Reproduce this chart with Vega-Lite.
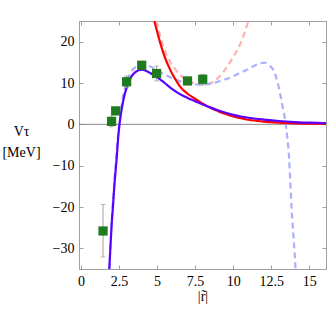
{
  "$schema": "https://vega.github.io/schema/vega-lite/v6.json",
  "width": 247,
  "height": 248,
  "autosize": "none",
  "padding": {"left": 79, "top": 21, "right": 1, "bottom": 58},
  "background": "white",
  "config": {
    "view": {"stroke": "#a0a0a0", "strokeWidth": 1},
    "axis": {
      "grid": false,
      "domainColor": "#a0a0a0",
      "tickColor": "#a0a0a0",
      "labelFont": "Liberation Serif, Times New Roman, serif",
      "labelFontSize": 14,
      "labelColor": "black",
      "titleFont": "Liberation Serif, Times New Roman, serif",
      "titleFontSize": 14,
      "titleFontWeight": "normal",
      "titleColor": "black"
    }
  },
  "datasets": {
    "dashed": [
      {"x": 4.97, "y": 25, "s": "pink"},
      {"x": 5.3, "y": 20, "s": "pink"},
      {"x": 5.6, "y": 17, "s": "pink"},
      {"x": 5.85, "y": 15.1, "s": "pink"},
      {"x": 6.2, "y": 13.3, "s": "pink"},
      {"x": 6.5, "y": 11.9, "s": "pink"},
      {"x": 7.0, "y": 10.6, "s": "pink"},
      {"x": 7.5, "y": 9.9, "s": "pink"},
      {"x": 8.0, "y": 9.6, "s": "pink"},
      {"x": 8.5, "y": 9.9, "s": "pink"},
      {"x": 9.0, "y": 11.2, "s": "pink"},
      {"x": 9.5, "y": 13.4, "s": "pink"},
      {"x": 10.0, "y": 16.3, "s": "pink"},
      {"x": 10.5, "y": 19.7, "s": "pink"},
      {"x": 11.0, "y": 25, "s": "pink"},
      {"x": 1.87, "y": -35, "s": "lightblue"},
      {"x": 2.0, "y": -24.5, "s": "lightblue"},
      {"x": 2.2, "y": -13.5, "s": "lightblue"},
      {"x": 2.4, "y": -4, "s": "lightblue"},
      {"x": 2.55, "y": 1, "s": "lightblue"},
      {"x": 2.7, "y": 5.5, "s": "lightblue"},
      {"x": 2.9, "y": 9, "s": "lightblue"},
      {"x": 3.1, "y": 11.2, "s": "lightblue"},
      {"x": 3.4, "y": 13.2, "s": "lightblue"},
      {"x": 3.7, "y": 14.1, "s": "lightblue"},
      {"x": 4.0, "y": 14.5, "s": "lightblue"},
      {"x": 4.4, "y": 14.3, "s": "lightblue"},
      {"x": 4.8, "y": 13.5, "s": "lightblue"},
      {"x": 5.3, "y": 12.4, "s": "lightblue"},
      {"x": 5.8, "y": 11.5, "s": "lightblue"},
      {"x": 6.3, "y": 10.7, "s": "lightblue"},
      {"x": 6.8, "y": 10.1, "s": "lightblue"},
      {"x": 7.3, "y": 9.8, "s": "lightblue"},
      {"x": 7.8, "y": 9.6, "s": "lightblue"},
      {"x": 8.3, "y": 9.7, "s": "lightblue"},
      {"x": 8.8, "y": 10.1, "s": "lightblue"},
      {"x": 9.3, "y": 10.7, "s": "lightblue"},
      {"x": 9.8, "y": 11.3, "s": "lightblue"},
      {"x": 10.3, "y": 12.2, "s": "lightblue"},
      {"x": 10.8, "y": 13.0, "s": "lightblue"},
      {"x": 11.3, "y": 14.0, "s": "lightblue"},
      {"x": 11.76, "y": 14.8, "s": "lightblue"},
      {"x": 12.1, "y": 14.9, "s": "lightblue"},
      {"x": 12.4, "y": 14.2, "s": "lightblue"},
      {"x": 12.7, "y": 12.7, "s": "lightblue"},
      {"x": 12.96, "y": 9.5, "s": "lightblue"},
      {"x": 13.2, "y": 5.2, "s": "lightblue"},
      {"x": 13.47, "y": -0.5, "s": "lightblue"},
      {"x": 13.68, "y": -8.5, "s": "lightblue"},
      {"x": 13.84, "y": -20.5, "s": "lightblue"},
      {"x": 14.0, "y": -29, "s": "lightblue"},
      {"x": 14.1, "y": -35, "s": "lightblue"}
    ],
    "solid": [
      {"x": 4.82, "y": 25, "s": "red"},
      {"x": 5.0, "y": 22.5, "s": "red"},
      {"x": 5.2, "y": 19.8, "s": "red"},
      {"x": 5.5, "y": 16.3, "s": "red"},
      {"x": 5.85, "y": 13.3, "s": "red"},
      {"x": 6.2, "y": 10.9, "s": "red"},
      {"x": 6.5, "y": 9.2, "s": "red"},
      {"x": 7.0, "y": 7.4, "s": "red"},
      {"x": 7.5, "y": 6.2, "s": "red"},
      {"x": 8.0, "y": 5.0, "s": "red"},
      {"x": 8.5, "y": 4.0, "s": "red"},
      {"x": 9.0, "y": 3.2, "s": "red"},
      {"x": 9.5, "y": 2.5, "s": "red"},
      {"x": 10.0, "y": 1.9, "s": "red"},
      {"x": 10.5, "y": 1.5, "s": "red"},
      {"x": 11.0, "y": 1.1, "s": "red"},
      {"x": 12.0, "y": 0.65, "s": "red"},
      {"x": 13.0, "y": 0.4, "s": "red"},
      {"x": 14.0, "y": 0.25, "s": "red"},
      {"x": 15.0, "y": 0.15, "s": "red"},
      {"x": 16.1, "y": 0.1, "s": "red"},
      {"x": 1.86, "y": -35, "s": "blue"},
      {"x": 1.93, "y": -30, "s": "blue"},
      {"x": 2.02, "y": -24, "s": "blue"},
      {"x": 2.1, "y": -20, "s": "blue"},
      {"x": 2.2, "y": -14.5, "s": "blue"},
      {"x": 2.34, "y": -8.5, "s": "blue"},
      {"x": 2.45, "y": -3, "s": "blue"},
      {"x": 2.53, "y": 0, "s": "blue"},
      {"x": 2.7, "y": 4.2, "s": "blue"},
      {"x": 2.85, "y": 7, "s": "blue"},
      {"x": 3.0, "y": 8.8, "s": "blue"},
      {"x": 3.2, "y": 10.8, "s": "blue"},
      {"x": 3.4, "y": 12, "s": "blue"},
      {"x": 3.6, "y": 12.7, "s": "blue"},
      {"x": 3.8, "y": 13.1, "s": "blue"},
      {"x": 4.0, "y": 13.2, "s": "blue"},
      {"x": 4.3, "y": 12.9, "s": "blue"},
      {"x": 4.6, "y": 12.3, "s": "blue"},
      {"x": 5.0, "y": 11.4, "s": "blue"},
      {"x": 5.5, "y": 10.0, "s": "blue"},
      {"x": 6.0, "y": 8.5, "s": "blue"},
      {"x": 6.5, "y": 7.3, "s": "blue"},
      {"x": 7.0, "y": 6.4, "s": "blue"},
      {"x": 7.5, "y": 5.6, "s": "blue"},
      {"x": 8.0, "y": 4.8, "s": "blue"},
      {"x": 8.5, "y": 4.1, "s": "blue"},
      {"x": 9.0, "y": 3.4, "s": "blue"},
      {"x": 9.5, "y": 2.8, "s": "blue"},
      {"x": 10.0, "y": 2.3, "s": "blue"},
      {"x": 10.5, "y": 1.9, "s": "blue"},
      {"x": 11.0, "y": 1.6, "s": "blue"},
      {"x": 11.5, "y": 1.35, "s": "blue"},
      {"x": 12.0, "y": 1.15, "s": "blue"},
      {"x": 13.0, "y": 0.8, "s": "blue"},
      {"x": 14.0, "y": 0.55, "s": "blue"},
      {"x": 15.0, "y": 0.4, "s": "blue"},
      {"x": 16.1, "y": 0.28, "s": "blue"}
    ],
    "points": [
      {"x": 1.45, "y": -25.8, "lo": -32.1, "hi": -19.4},
      {"x": 2.01, "y": 0.7, "lo": -0.6, "hi": 2.0},
      {"x": 2.28, "y": 3.25, "lo": 2.45, "hi": 4.05},
      {"x": 3.0, "y": 10.3, "lo": 8.9, "hi": 11.7},
      {"x": 3.99, "y": 14.3, "lo": 13.5, "hi": 15.1},
      {"x": 4.97, "y": 12.3, "lo": 10.5, "hi": 14.1},
      {"x": 7.0, "y": 10.5, "lo": 10.0, "hi": 11.0},
      {"x": 8.0, "y": 10.9, "lo": 9.6, "hi": 12.1}
    ]
  },
  "resolve": {"axis": {"x": "independent", "y": "independent"}},
  "layer": [
    {
      "data": {"values": [{"y": 0}]},
      "mark": {"type": "rule", "color": "#8a8a8a", "strokeWidth": 1},
      "encoding": {
        "y": {"field": "y", "type": "quantitative", "scale": {"domain": [-35, 25], "nice": false, "zero": false}, "axis": null}
      }
    },
    {
      "data": {"name": "dashed"},
      "mark": {"type": "line", "clip": true, "strokeWidth": 2.2, "interpolate": "monotone", "strokeDash": [6, 4]},
      "encoding": {
        "x": {
          "field": "x", "type": "quantitative",
          "scale": {"domain": [-0.13, 16.1], "nice": false, "zero": false},
          "axis": {
            "orient": "bottom",
            "values": [0, 2.5, 5, 7.5, 10, 12.5, 15],
            "labelExpr": "toString(datum.value)",
            "tickSize": -4,
            "labelPadding": 9,
            "title": "|r̃|",
            "titlePadding": 1
          }
        },
        "y": {
          "field": "y", "type": "quantitative",
          "scale": {"domain": [-35, 25], "nice": false, "zero": false},
          "axis": {
            "orient": "left",
            "values": [-30, -20, -10, 0, 10, 20],
            "tickSize": -4,
            "labelPadding": 9,
            "title": ["Vτ", "[MeV]"],
            "titleAngle": 0,
            "titleAlign": "center",
            "titleBaseline": "middle",
            "titleLineHeight": 21,
            "titleX": -58,
            "titleY": 110
          }
        },
        "color": {
          "field": "s", "type": "nominal", "legend": null,
          "scale": {"domain": ["lightblue", "pink"], "range": ["#aab0ff", "#ffb0b0"]}
        },
        "detail": {"field": "s"},
        "order": {"field": "x", "type": "quantitative"}
      }
    },
    {
      "data": {"name": "solid"},
      "mark": {"type": "line", "clip": true, "strokeWidth": 2.2, "interpolate": "monotone"},
      "encoding": {
        "x": {"field": "x", "type": "quantitative", "axis": null},
        "y": {"field": "y", "type": "quantitative", "axis": null},
        "stroke": {
          "field": "s", "type": "nominal", "legend": null,
          "scale": {"domain": ["red", "blue"], "range": ["#ff0000", "#5a00ff"]}
        },
        "order": {"field": "x", "type": "quantitative"}
      }
    },
    {
      "data": {"name": "points"},
      "mark": {"type": "errorbar", "ticks": {"size": 5, "color": "#a0a0a0"}, "rule": {"color": "#a0a0a0"}},
      "encoding": {
        "x": {"field": "x", "type": "quantitative", "axis": null},
        "y": {"field": "lo", "type": "quantitative", "axis": null},
        "y2": {"field": "hi"}
      }
    },
    {
      "data": {"name": "points"},
      "mark": {"type": "point", "shape": "square", "filled": true, "opacity": 1, "size": 85, "color": "#1e7b1e"},
      "encoding": {
        "x": {"field": "x", "type": "quantitative", "axis": {"orient": "top", "labels": false, "title": null, "tickSize": -4, "values": [0, 2.5, 5, 7.5, 10, 12.5, 15]}},
        "y": {"field": "y", "type": "quantitative", "axis": {"orient": "right", "labels": false, "title": null, "tickSize": -4, "values": [-30, -20, -10, 0, 10, 20]}}
      }
    }
  ]
}
